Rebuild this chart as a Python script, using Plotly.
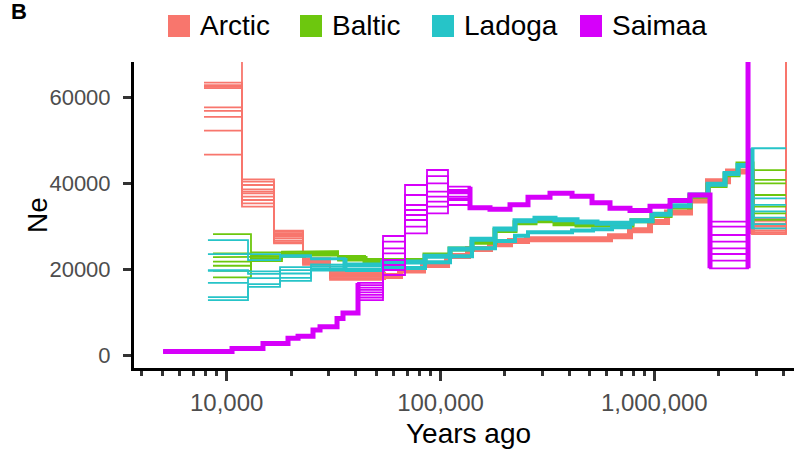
import plotly.graph_objects as go

# ---------------- data ----------------
populations = ["Arctic", "Baltic", "Ladoga", "Saimaa"]
pop_colors = ["#F8766D", "#6DC70E", "#26C4C8", "#D600FA"]

# step boundaries (years ago) and Ne per interval; a list = individual bootstrap replicates
arctic_t = [7830, 11790, 16640, 22750, 30430, 53840, 64660, 82840, 107300, 134500,
            170400, 211400, 253900, 620600, 769800, 954800, 1147000, 1469000, 1783000,
            2212000, 2864000, 4131000, 6000000]
arctic_ne = [
    [63500, 62900, 62500, 62200, 57700, 56900, 55500, 52300, 46700, 80000],
    [40960, 40400, 39630, 38620, 37690, 36900, 36130, 35360, 34570, 38100],
    [28980, 28700, 28360, 28000, 27580, 27200, 26650, 26300, 26040, 27800],
    [22600, 22300, 22000, 21800, 21500, 21300, 21000, 22100, 21700, 22400],
    [19400, 19100, 18800, 18500, 18200, 17900, 17500, 18700, 19000, 18300],
    18400, 19700, 21000, 23100, 24700, 25800, 26600, 27000, 27700, 29100,
    31000, 33200, 36000, 40500, 42800,
    [31300, 30600, 30000, 29500, 29000, 28500, 28200, 31800, 30300, 29000],
    [92000, 88000, 95000, 101000, 86000, 99000, 90000, 97000, 94000, 89000],
]

baltic_t = [8630, 12990, 18140, 23250, 33170, 44360, 84630, 110800, 140400, 179800,
            223100, 276700, 343200, 435100, 786500, 975600, 1185000, 1469000, 1783000,
            2142000, 2463000, 2864000, 4131000]
baltic_ne = [
    [28200, 23700, 22800, 21750, 20800, 19600, 18100],
    [23900, 23400, 22900, 22400, 21900, 22600, 23100],
    [24100, 23700, 23300, 22900, 23500, 24000, 23000],
    [24200, 23900, 23600, 23200, 23800, 24100, 23400],
    [23000, 22600, 22200, 22800, 23100, 22400, 22000],
    22000, 23300, 24700, 26300, 29000, 30800, 31300, 30600, 30300, 31300,
    32500, 34500, 37000, 39500, 42000, 44500,
    [43100, 40800, 40000, 37300, 34600, 33000, 31500],
]

ladoga_t = [8170, 12580, 17760, 24800, 35750, 53840, 84630, 110800, 140400, 179800,
            223100, 276700, 343200, 435100, 539500, 786500, 975600, 1185000, 1469000,
            1783000, 2142000, 2463000, 2864000, 4131000]
ladoga_ne = [
    [26800, 23500, 19800, 19600, 16800, 13500, 12800],
    [22100, 23500, 19500, 18900, 17900, 16500, 15900],
    [22900, 23300, 20500, 19800, 19000, 18000, 17300],
    [22600, 22300, 21100, 20600, 20200, 19900, 19700],
    21000, 21700, 23000, 24700, 27000, 29400, 31300, 31900, 31500, 31000,
    30700, 31300, 32800, 34800, 37300, 39800, 42300, 44200,
    [48200, 36500, 35000, 33500, 32000, 30500, 29500],
]
# second (lower) group of Ladoga replicates
ladoga_low_t = [35750, 53840, 84630, 110800, 140400, 179800, 223100, 256600, 412300,
                516800, 634200, 786500]
ladoga_low_ne = [19800, 20300, 21600, 23000, 24900, 26600, 27800, 28600, 29000, 29300, 29800]

saimaa_t = [5040, 10590, 14780, 19350, 21560, 25330, 27320, 32810, 34990, 41130,
            53840, 68230, 86470, 108400, 137400, 170400, 211400, 256600, 325200,
            412300, 511300, 620600, 769800, 954800, 1185000, 1469000, 1822000,
            2744000, 6000000]
saimaa_ne = [
    800, 1500, 2700, 3900, 4400, 5800, 6600, 8500, 9800,
    [16800, 16300, 15700, 15200, 14600, 14000, 13400, 12800],
    [27740, 26410, 24870, 23700, 22150, 20980, 19810, 18650],
    [39630, 37300, 34970, 33800, 32630, 31470, 29910, 28360],
    [43120, 41720, 40020, 38070, 36900, 35740, 34570, 33030],
    [39230, 38460, 37690, 36900, 36130, 34970, 38000, 36500],
    34300, 34000, 35000, 36800, 37700, 37000, 35500, 34200, 33700, 34700,
    36000, 37300,
    [31070, 29910, 27970, 26410, 24870, 23540, 22000, 20210],
    150000,
]

x_major = [10000, 100000, 1000000]
x_major_text = ["10,000", "100,000", "1,000,000"]
x_minor = [4000, 5000, 6000, 7000, 8000, 9000,
           20000, 30000, 40000, 50000, 60000, 70000, 80000, 90000,
           200000, 300000, 400000, 500000, 600000, 700000, 800000, 900000,
           2000000, 3000000, 4000000]
y_ticks = [0, 20000, 40000, 60000]
y_tick_text = ["0", "20000", "40000", "60000"]

# ---------------- helpers ----------------
def rep_paths(t, ne):
    k_count = max(len(v) for v in ne if isinstance(v, list))
    paths = []
    for k in range(k_count):
        xs, ys = [], []
        for i, v in enumerate(ne):
            val = v[k] if isinstance(v, list) else v
            xs += [t[i], t[i + 1]]
            ys += [val, val]
        paths.append((xs, ys))
    return paths


def core_path(t, ne):
    cx, cy = [], []
    prev_num = False
    for i, v in enumerate(ne):
        if isinstance(v, list):
            if prev_num:
                lo = min(v + [ne[i - 1]])
                hi = max(v + [ne[i - 1]])
                cx += [t[i], t[i], None]
                cy += [lo, hi, None]
            prev_num = False
        else:
            if i > 0 and isinstance(ne[i - 1], list):
                lo = min(ne[i - 1] + [v])
                hi = max(ne[i - 1] + [v])
                cx += [None, t[i], t[i]]
                cy += [None, lo, hi]
            cx += [t[i], t[i + 1]]
            cy += [v, v]
            prev_num = True
    return cx, cy


fig = go.Figure()
series = [
    (arctic_t, arctic_ne, 6),
    (baltic_t, baltic_ne, 5),
    (ladoga_t, ladoga_ne, 5),
    (saimaa_t, saimaa_ne, 5),
]
for idx, (t, ne, w) in enumerate(series):
    col = pop_colors[idx]
    for xs, ys in rep_paths(t, ne):
        fig.add_trace(go.Scatter(x=xs, y=ys, mode="lines",
                                 line=dict(color=col, width=1.8),
                                 hoverinfo="skip", showlegend=False))
    cx, cy = core_path(t, ne)
    fig.add_trace(go.Scatter(x=cx, y=cy, mode="lines",
                             line=dict(color=col, width=w),
                             hoverinfo="skip", showlegend=False))
    if populations[idx] == "Ladoga":
        lx, ly = [], []
        for i, v in enumerate(ladoga_low_ne):
            lx += [ladoga_low_t[i], ladoga_low_t[i + 1]]
            ly += [v, v]
        fig.add_trace(go.Scatter(x=lx, y=ly, mode="lines",
                                 line=dict(color=col, width=4),
                                 hoverinfo="skip", showlegend=False))

# ---------------- layout ----------------
W, H = 794, 459
L, R, T, B = 134, 0, 62, 91
PW, PH = W - L - R, H - T - B


def px2x(px):
    return (px - L) / PW


def py2y(py):
    return (H - B - py) / PH


FONT = "Liberation Sans, Arial, sans-serif"

fig.update_layout(
    width=W, height=H,
    margin=dict(l=L, r=R, t=T, b=B),
    paper_bgcolor="white", plot_bgcolor="white",
    showlegend=False,
    font=dict(family=FONT, color="black"),
)
fig.update_xaxes(
    type="log", range=[3.5664, 6.6534],
    showgrid=False, zeroline=False,
    showline=True, linecolor="black", linewidth=3,
    tickmode="array", tickvals=x_major, ticktext=x_major_text,
    ticks="outside", ticklen=10, tickwidth=3, tickcolor="#333333",
    ticklabelstandoff=1,
    tickfont=dict(size=24, color="#4D4D4D", family=FONT),
    minor=dict(tickmode="array", tickvals=x_minor, ticks="outside",
               ticklen=5, tickwidth=3, tickcolor="#333333", showgrid=False),
)
fig.update_yaxes(
    range=[-3030, 68300],
    showgrid=False, zeroline=False,
    showline=True, linecolor="black", linewidth=3,
    tickmode="array", tickvals=y_ticks, ticktext=y_tick_text,
    ticks="outside", ticklen=8, tickwidth=3, tickcolor="#333333",
    ticklabelstandoff=8,
    tickfont=dict(size=22, color="#4D4D4D", family=FONT),
)

annotations = [
    dict(text="<b>B</b>", x=px2x(9), y=py2y(12), xanchor="left", yanchor="middle",
         font=dict(size=22, color="black", family=FONT)),
    dict(text="Years ago", x=px2x(468), y=py2y(433), xanchor="center", yanchor="middle",
         font=dict(size=28, color="black", family=FONT)),
    dict(text="Ne", x=px2x(37), y=py2y(215), xanchor="center", yanchor="middle",
         textangle=-90, font=dict(size=28, color="black", family=FONT)),
]
shapes = []
legend_key_left = [168, 300, 432, 580]
key_size = 22
key_top = 15
for name, col, kx in zip(populations, pop_colors, legend_key_left):
    shapes.append(dict(type="rect", xref="paper", yref="paper",
                       x0=px2x(kx), x1=px2x(kx + key_size),
                       y0=py2y(key_top + key_size), y1=py2y(key_top),
                       fillcolor=col, line=dict(width=0)))
    annotations.append(dict(text=name, x=px2x(kx + key_size + 8), y=py2y(key_top + key_size / 2),
                            xanchor="left", yanchor="middle",
                            font=dict(size=28, color="black", family=FONT)))
for a in annotations:
    a.update(xref="paper", yref="paper", showarrow=False)
fig.update_layout(annotations=annotations, shapes=shapes)

fig.write_html("out.html")
